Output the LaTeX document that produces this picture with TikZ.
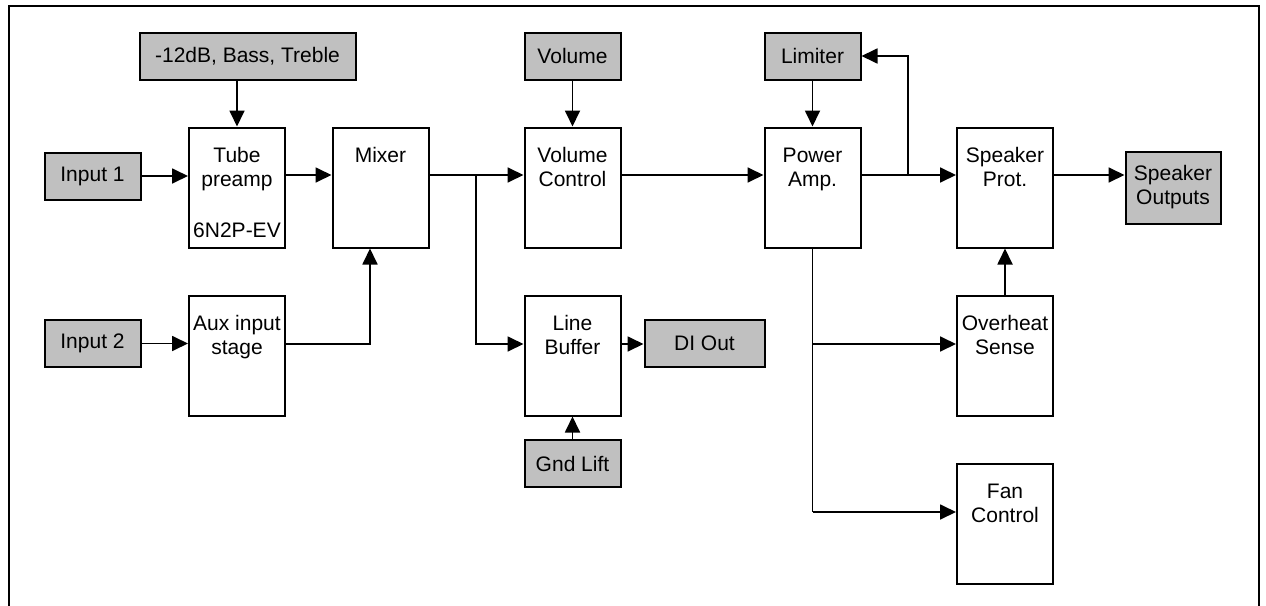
\documentclass[tikz,border=0pt]{standalone}
\usepackage{fontspec}
\setmainfont{Liberation Sans}
\usetikzlibrary{arrows.meta}
\definecolor{gry}{HTML}{C0C0C0}
\newcommand{\dgfont}{\fontsize{21}{24}\selectfont}
\begin{document}
\begin{tikzpicture}[x=1pt,y=-1pt,
  box/.style={draw, line width=2pt, minimum width=96pt, minimum height=120pt, inner sep=0pt},
  ctl/.style={draw, line width=2pt, fill=gry, minimum height=47pt, inner sep=0pt, font=\dgfont, align=center},
  ttl/.style={label={[anchor=north, yshift=-21pt, inner sep=0pt, align=center, font=\dgfont]north:#1}},
  arr/.style={line width=1.8pt, -{Triangle[length=16pt,width=15pt]}},
  ln/.style={line width=1.8pt}]
\useasboundingbox (0,0) rectangle (1266,605);
% frame
\draw[line width=2pt] (9,620) -- (9,6) -- (1259,6) -- (1259,620);
% control / io boxes
\node[ctl, minimum width=216pt] (c1) at (247.5,56) {-12dB, Bass, Treble};
\node[ctl, minimum width=96pt] (in1) at (92.5,176) {Input 1};
\node[ctl, minimum width=96pt] (in2) at (92.5,343.5) {Input 2};
\node[ctl, minimum width=96pt] (vol) at (572.5,56) {Volume};
\node[ctl, minimum width=96pt] (lim) at (812.5,56) {Limiter};
\node[ctl, minimum width=120pt] (dio) at (704.5,343.5) {DI Out};
\node[ctl, minimum width=96pt] (gnd) at (572.5,463.5) {Gnd Lift};
\node[ctl, minimum width=95pt, minimum height=72pt] (spo) at (1173,187.5) {Speaker\\Outputs};
% processing blocks
\node[box, ttl={Tube\\preamp}, label={[anchor=base, yshift=11pt, inner sep=0pt, font=\dgfont]south:6N2P-EV}] (tube) at (237,187.5) {};
\node[box, ttl={Mixer}] (mix) at (380.5,187.5) {};
\node[box, ttl={Volume\\Control}] (vc) at (572.5,187.5) {};
\node[box, ttl={Power\\Amp.}] (pa) at (812.5,187.5) {};
\node[box, ttl={Speaker\\Prot.}] (sp) at (1005,187.5) {};
\node[box, ttl={Aux input\\stage}] (aux) at (237,355.5) {};
\node[box, ttl={Line\\Buffer}] (lb) at (572.5,355.5) {};
\node[box, ttl={Overheat\\Sense}] (oh) at (1005,355.5) {};
\node[box, ttl={Fan\\Control}] (fan) at (1005,523.5) {};
% junctions
\coordinate (jm) at (370,344);
\coordinate (j1) at (476,175);
\coordinate (j2) at (908,175);
\coordinate (j3) at (812.5,512);
% connectors
\draw[arr] (in1.east) -- (in1.east -| tube.west);
\draw[arr] (c1.south -| tube.north) -- (tube.north);
\draw[arr] (tube.east |- j1) -- (mix.west |- j1);
\draw[arr] (in2.east) -- (in2.east -| aux.west);
\draw[arr] (aux.east |- jm) -- (jm) -- (jm |- mix.south);
\draw[arr] (mix.east |- j1) -- (vc.west |- j1);
\draw[arr] (j1) |- (lb.west |- jm);
\draw[arr] (vol.south) -- (vc.north);
\draw[arr] (vc.east |- j1) -- (pa.west |- j1);
\draw[arr] (lim.south) -- (pa.north);
\draw[arr] (pa.east |- j2) -- (sp.west |- j2);
\draw[arr] (j2) |- (lim.east);
\draw[arr] (sp.east |- j2) -- (spo.west |- j2);
\draw[arr] (lb.east |- jm) -- (dio.west |- jm);
\draw[arr] (gnd.north) -- (lb.south);
\draw[ln] (pa.south) -- (j3);
\draw[arr] (pa.south |- jm) -- (oh.west |- jm);
\draw[arr] (j3) -- (fan.west |- j3);
\draw[arr] (oh.north) -- (sp.south);
\end{tikzpicture}
\end{document}
